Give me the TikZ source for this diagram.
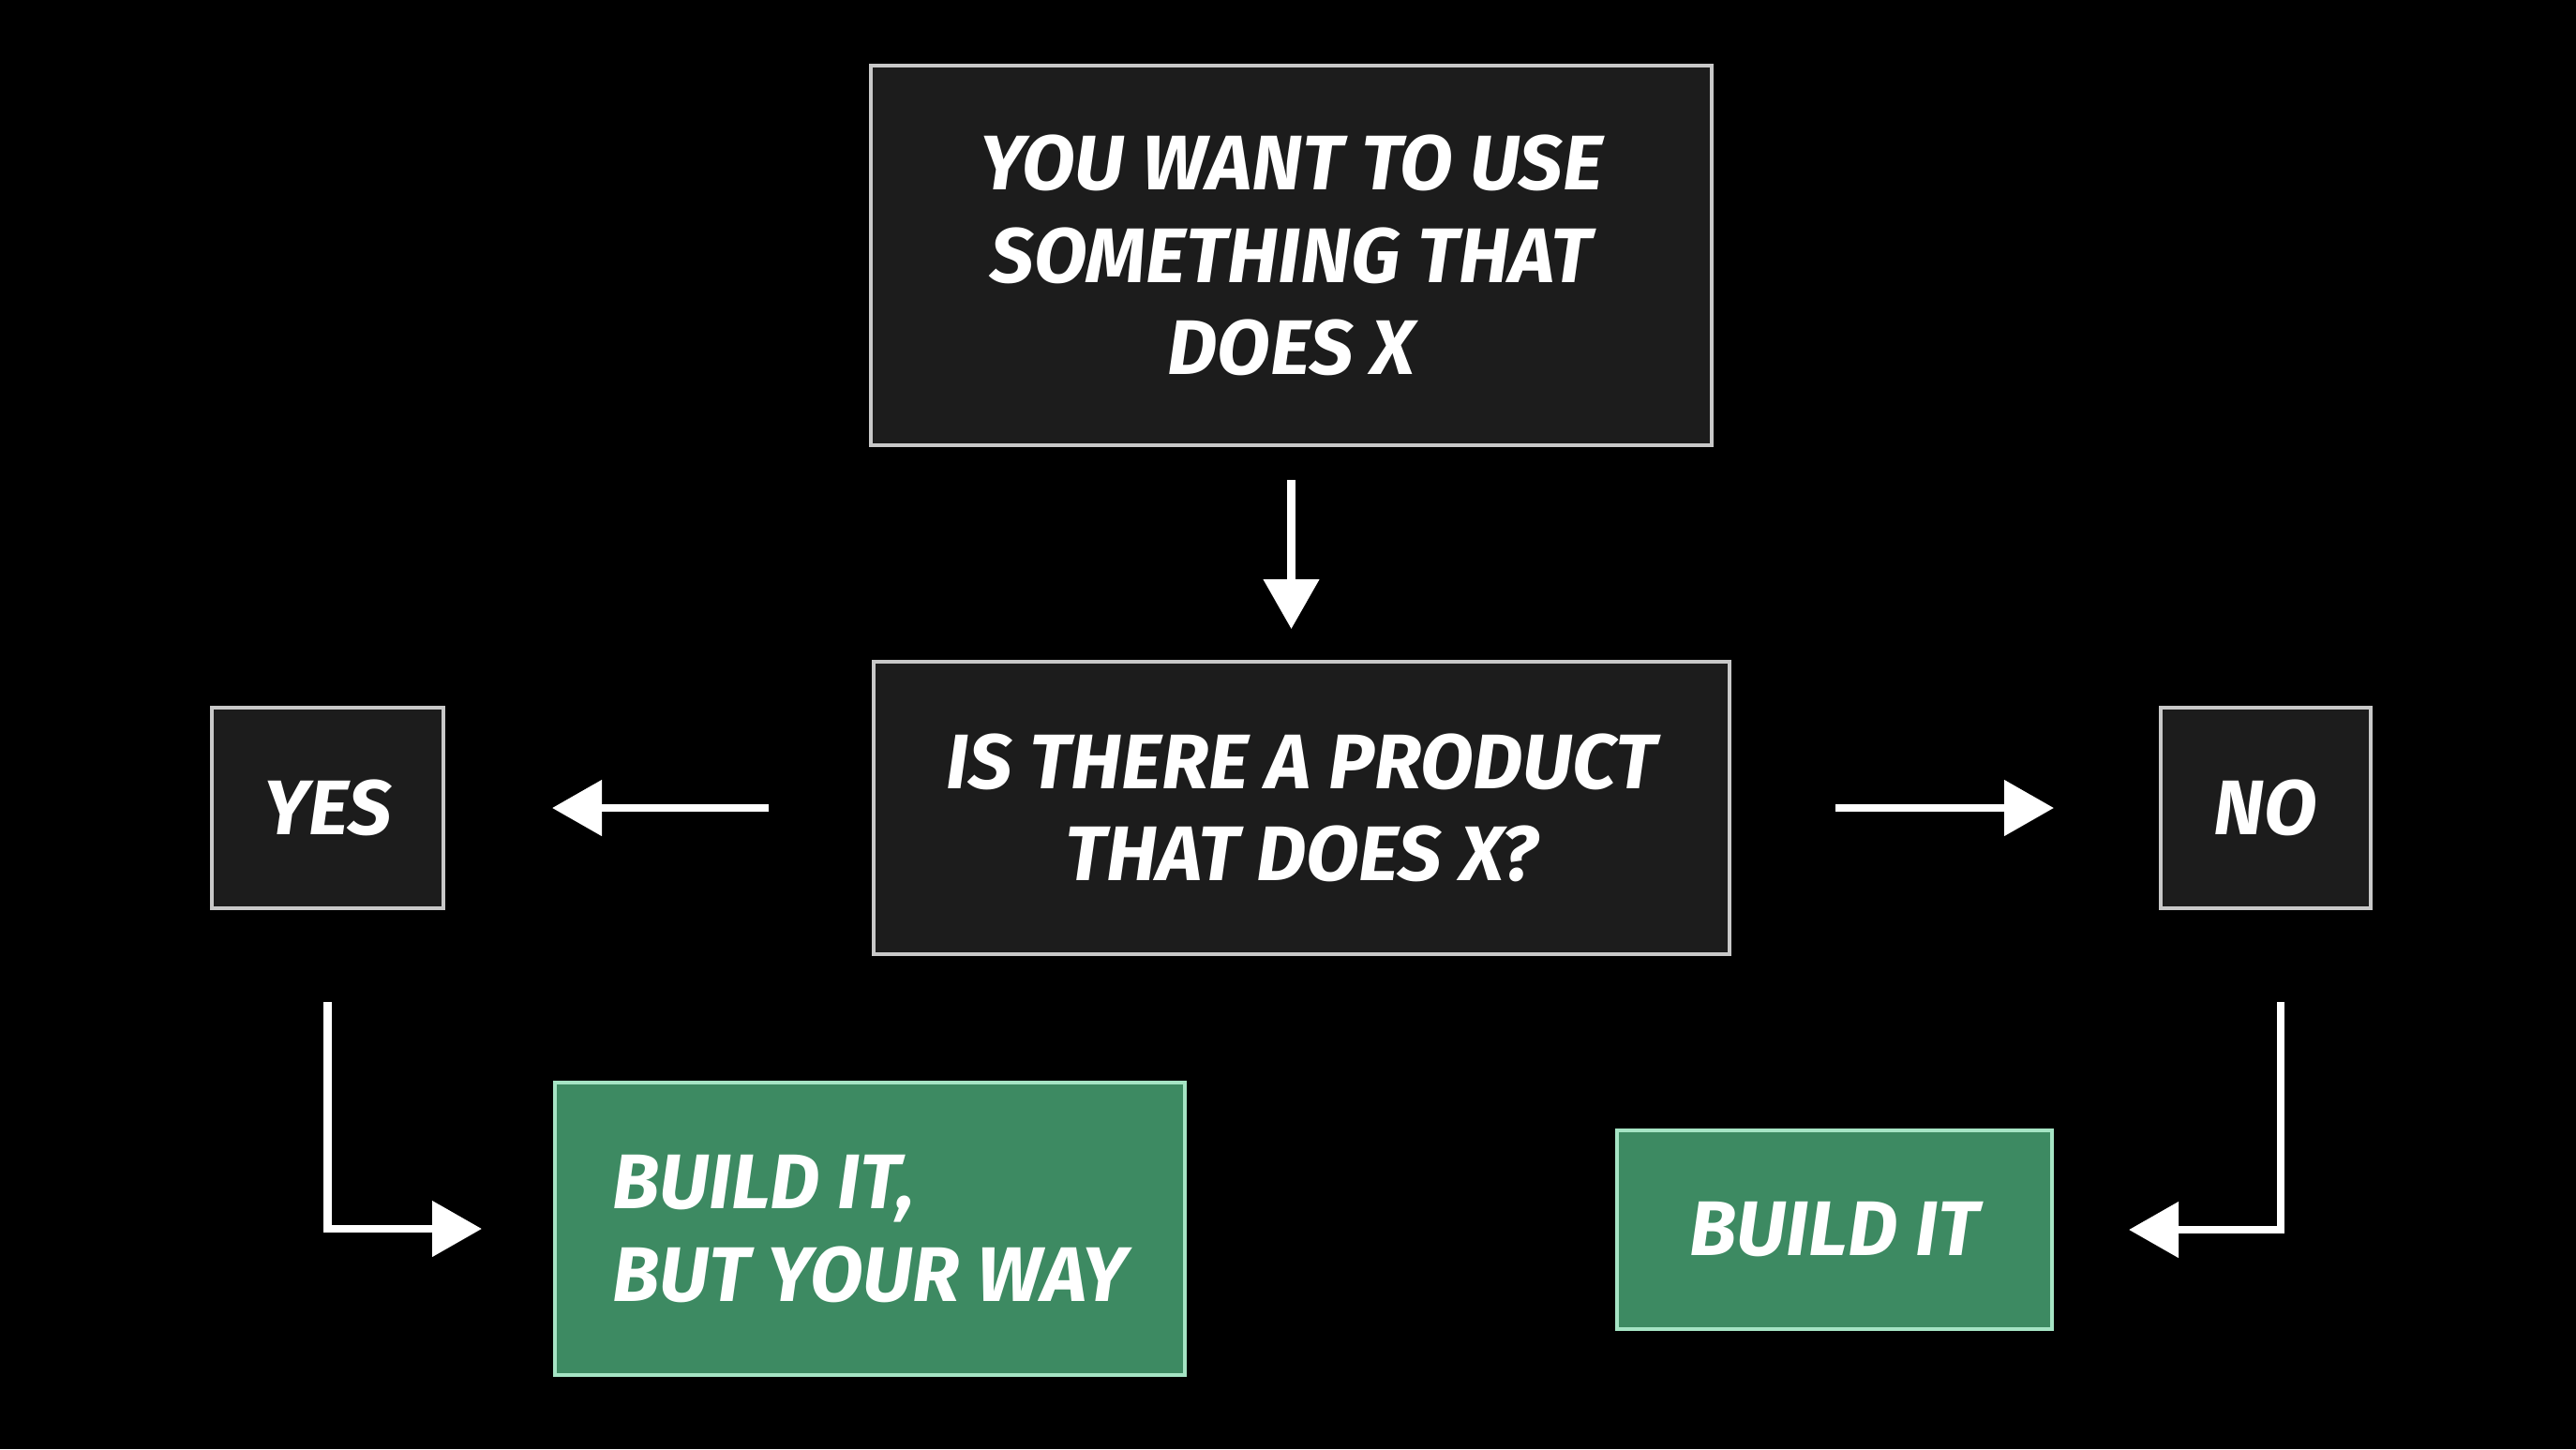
\documentclass[tikz,border=0pt]{standalone}
\usepackage{fontspec}
\setmainfont{Fira Sans}
\usetikzlibrary{positioning, arrows.meta}

\definecolor{boxgray}{RGB}{28,28,28}
\definecolor{edgegray}{RGB}{200,200,200}
\definecolor{buildgreen}{RGB}{61,138,98}
\definecolor{edgegreen}{RGB}{165,228,196}

\begin{document}
\begin{tikzpicture}[
BoxStyle/.style={draw=edgegray, fill=boxgray, line width=1pt, text=white,
                font=\fontsize{23.5}{28}\selectfont\bfseries\itshape,
                align=center, inner sep=0pt, outer sep=0pt},
GreenStyle/.style={BoxStyle, draw=edgegreen, fill=buildgreen},
ArrStyle/.style={draw=white, line width=2.3pt,
                -{Triangle[length=5.3mm, width=5.8mm]}},]
\fill[black] (0,0) rectangle (27.48,-15.46);
\useasboundingbox (0,0) rectangle (27.48,-15.46);

\node [BoxStyle, minimum width=8.97cm, minimum height=4.05cm] at (13.775,-2.725) (want)
    {YOU WANT TO USE\\SOMETHING THAT\\DOES X};
\node [BoxStyle, minimum width=9.13cm, minimum height=3.12cm] at (13.885,-8.62) (product)
    {IS THERE A PRODUCT\\THAT DOES X?};
\node [BoxStyle, minimum width=2.47cm, minimum height=2.14cm] at (3.495,-8.62) (yes) {YES};
\node [BoxStyle, minimum width=2.24cm, minimum height=2.14cm] at (24.17,-8.62) (no) {NO};
\node [GreenStyle, minimum width=6.72cm, minimum height=3.12cm, align=left] at (9.28,-13.11) (yourway)
    {BUILD IT,\\BUT YOUR WAY};
\node [GreenStyle, minimum width=4.64cm, minimum height=2.12cm] at (19.57,-13.12) (buildit) {BUILD IT};

\draw [ArrStyle, shorten <=0.37cm, shorten >=0.35cm] (want.south)--(want.south |- product.north);
\draw [ArrStyle, shorten <=1.12cm, shorten >=1.16cm] (product)--(yes);
\draw [ArrStyle, shorten <=1.13cm, shorten >=1.14cm] (product)--(no);
\draw [ArrStyle, shorten <=1cm, shorten >=0.78cm] (yes) |- (yourway);
\draw [ArrStyle, shorten <=1cm, shorten >=0.82cm] ([xshift=1.6mm]no.south) |- (buildit);
\end{tikzpicture}
\end{document}
